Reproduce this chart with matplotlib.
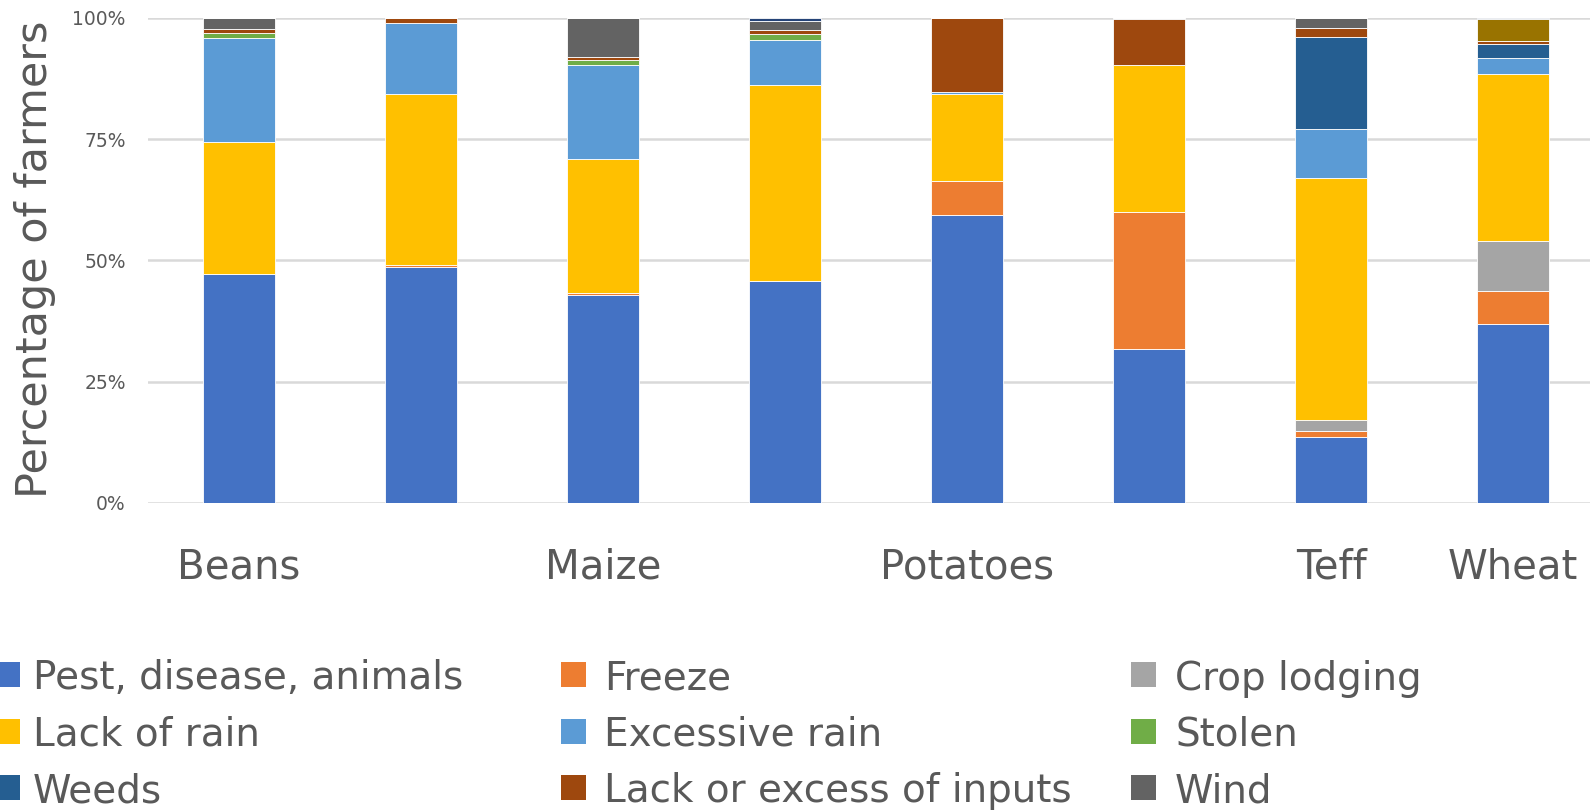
import matplotlib
matplotlib.use("Agg")
import matplotlib.pyplot as plt
from matplotlib.patches import Rectangle
from matplotlib.ticker import PercentFormatter
import numpy as np

# crops (only some labels fit on the axis in the original)
crops = ["Beans", "", "Maize", "", "Potatoes", "", "Teff", "Wheat"]

# percentage of farmers per loss cause, stacked bottom to top
pest = [47.2, 48.7, 42.8, 45.8, 59.4, 31.7, 13.6, 36.9]
freeze = [0, 0.4, 0.4, 0, 6.9, 28.3, 1.3, 6.8]
crop_lodging = [0, 0, 0, 0, 0, 0, 2.1, 10.2]
lack_of_rain = [27.2, 35.1, 27.7, 40.3, 18.0, 30.2, 50.0, 34.6]
excessive_rain = [21.4, 14.8, 19.4, 9.4, 0.4, 0, 10.0, 3.2]
stolen = [1.0, 0, 0.9, 1.1, 0, 0, 0, 0]
weeds = [0, 0, 0, 0, 0, 0, 19.1, 2.9]
inputs = [0.8, 1.0, 0.8, 0.8, 15.3, 9.5, 1.8, 0.6]
wind = [2.4, 0, 8.0, 2.0, 0, 0.3, 2.1, 0]
other = [0, 0, 0, 0, 0, 0, 0, 4.5]
other2 = [0, 0, 0, 0.6, 0, 0, 0, 0.3]

series = [
    ("Pest, disease, animals", pest, "#4472C4"),
    ("Freeze", freeze, "#ED7D31"),
    ("Crop lodging", crop_lodging, "#A5A5A5"),
    ("Lack of rain", lack_of_rain, "#FFC000"),
    ("Excessive rain", excessive_rain, "#5B9BD5"),
    ("Stolen", stolen, "#70AD47"),
    ("Weeds", weeds, "#255E91"),
    ("Lack or excess of inputs", inputs, "#9E480E"),
    ("Wind", wind, "#636363"),
    ("Other", other, "#997300"),
    ("Other (2)", other2, "#264478"),
]
n_legend = 9  # the last two entries are cut off in the original legend

W, H = 1590, 810
fig = plt.figure(figsize=(W / 100, H / 100), dpi=100)
ax = fig.add_axes([148 / W, 1 - 503 / H, 1456 / W, 485.3 / H])

font = "DejaVu Sans"
grey = "#595959"

x = np.arange(len(crops))
bottom = np.zeros(len(crops))
for name, vals, color in series:
    vals = np.array(vals)
    ax.bar(x, vals, 0.4, bottom=bottom, color=color, edgecolor="white",
           linewidth=0.6, zorder=3, label=name)
    bottom += vals

ax.set_xlim(-0.5, 7.5)
ax.set_ylim(0, 100)
ax.set_yticks([0, 25, 50, 75, 100])
ax.yaxis.set_major_formatter(PercentFormatter(decimals=0))
ax.grid(axis="y", color="#D9D9D9", linewidth=1.8, zorder=0)
for s in ax.spines.values():
    s.set_visible(False)
ax.tick_params(axis="y", length=0, pad=16, labelsize=13.5, labelcolor=grey)
ax.tick_params(axis="x", length=0, pad=32, labelsize=29, labelcolor=grey)
ax.set_xticks(x)
ax.set_xticklabels(crops, fontname=font)
for lab in ax.get_yticklabels():
    lab.set_fontname(font)

fig.text(35 / W, 1 - 259 / H, "Percentage of farmers", rotation=90,
         ha="center", va="center", fontsize=31, color=grey, fontname=font)

# legend laid out like the original (three columns, last entries cut off)
col_patch = [-5, 561, 1131]
col_text = [33, 604, 1175]
row_y = [674.5, 731, 787.5]
for i, (name, vals, color) in enumerate(series[:n_legend]):
    r, c = divmod(i, 3)
    fig.add_artist(Rectangle((col_patch[c] / W, 1 - (row_y[r] + 12.5) / H),
                             25 / W, 25 / H, transform=fig.transFigure,
                             facecolor=color, edgecolor="none"))
    fig.text(col_text[c] / W, 1 - row_y[r] / H, name, ha="left",
             va="center_baseline", fontsize=28, color=grey, fontname=font)

fig.savefig("out.png", dpi=100)
